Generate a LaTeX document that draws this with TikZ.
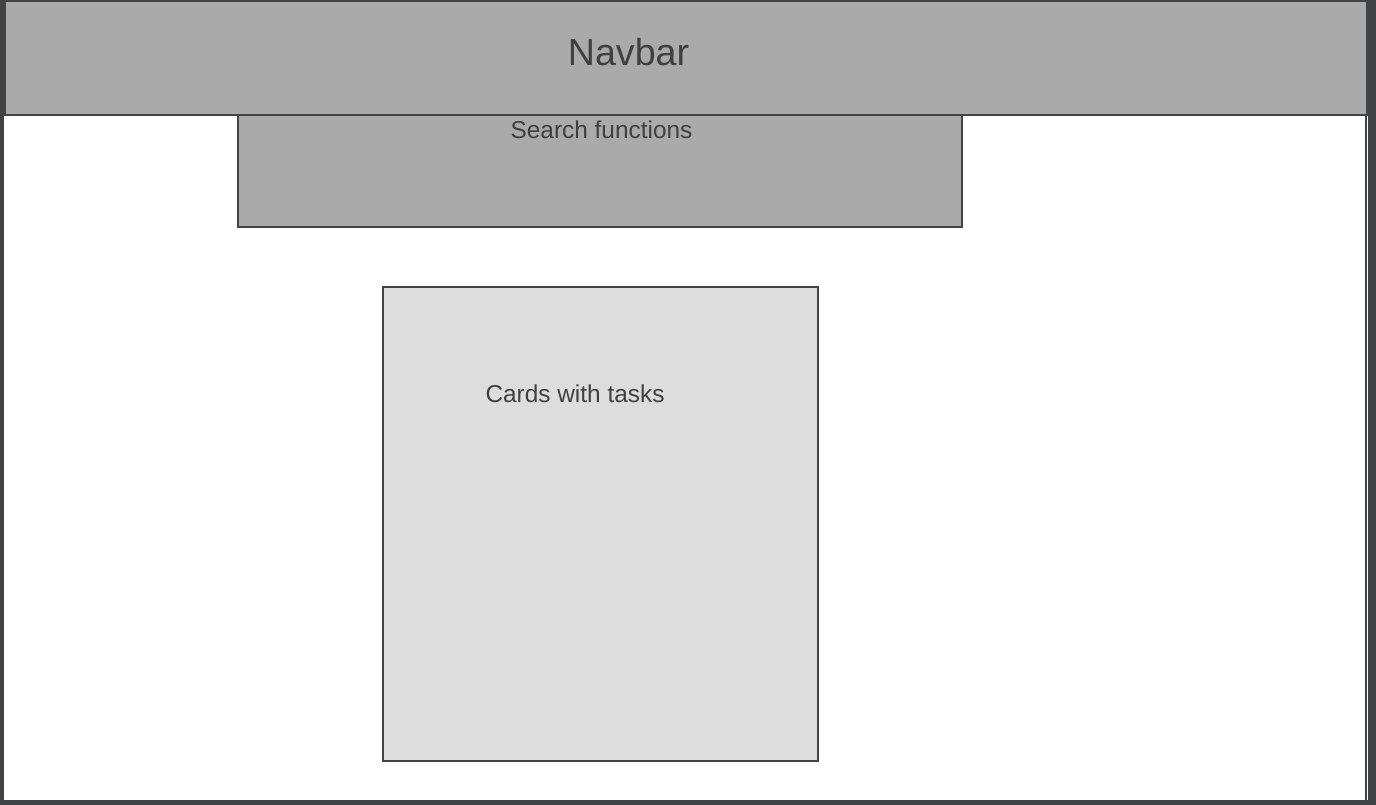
\documentclass[tikz,border=0pt]{standalone}
\usepackage{fontspec}
\setmainfont{Liberation Sans}
\definecolor{frame}{HTML}{3F4346}
\definecolor{edge}{HTML}{444444}
\definecolor{midgrey}{HTML}{AAAAAA}
\definecolor{lightgrey}{HTML}{DDDDDD}
\definecolor{ink}{HTML}{404040}
\begin{document}
\begin{tikzpicture}[x=1pt,y=-1pt,line join=miter,line cap=butt]
	\tikzset{box/.style={draw=edge,line width=1.6pt},
		label/.style={text=ink,inner sep=0pt,font=\fontsize{24.4}{28}\selectfont}}
	% page frame
	\fill[frame] (0,0) rectangle (1376,805);
	\useasboundingbox (0,0) rectangle (1376,805);
	\fill[white] (4,4) rectangle (1368,800);
	\draw[edge,line width=1.6pt] (1366,115)--(1366,800);
	% navbar
	\draw[box,fill=midgrey] (5,1) rectangle (1367,115);
	\node[label,font=\fontsize{37.6}{42}\selectfont] (navbar) at (628.5,52) {Navbar};
	% search block
	\draw[box,fill=midgrey] (238,115) rectangle (962,227);
	\node[label] (search) at (601.5,130) {Search functions};
	% task cards
	\draw[box,fill=lightgrey] (383,287) rectangle (818,761);
	\node[label] (cards) at (575,394) {Cards with tasks};
\end{tikzpicture}
\end{document}
